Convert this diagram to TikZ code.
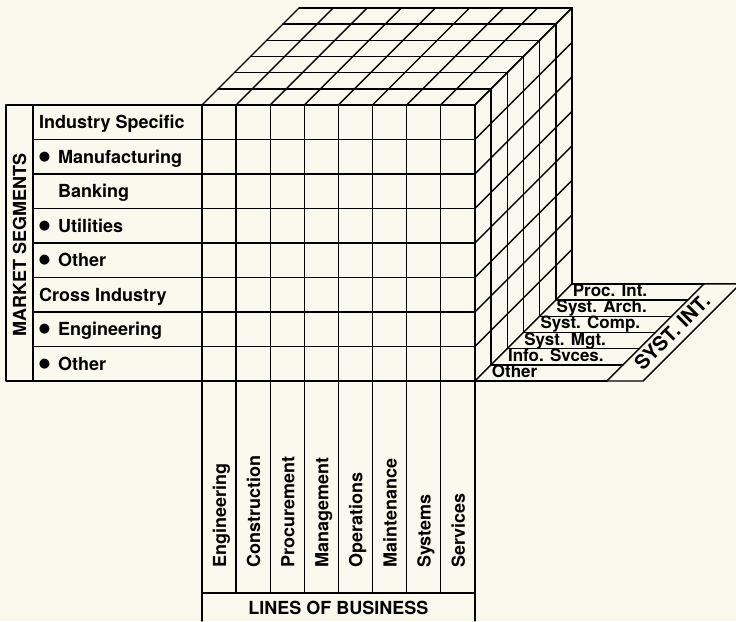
\documentclass[tikz,border=0pt]{standalone}
\usepackage{fontspec}
\setmainfont{TeX Gyre Heros}
\newfontfamily\dejavu{DejaVu Sans}
\definecolor{paper}{RGB}{250,249,237}

\begin{document}
\begin{tikzpicture}[x=1pt,y=-1pt,
        cubeline/.style={line width=1.4pt,line cap=round,line join=round},
        lbl/.style={inner sep=0pt,font=\fontsize{18}{20}\selectfont\bfseries},
        sml/.style={inner sep=0pt,font=\fontsize{17}{19}\selectfont\bfseries},
        bul/.style={inner sep=0pt,font=\dejavu\fontsize{13}{13}\selectfont}]
        \pgfmathsetmacro{\cw}{34.1}
        \pgfmathsetmacro{\rh}{34.5}
        \pgfmathsetmacro{\dd}{16.2}
        \fill[paper] (0,0) rectangle (736,621);
        \useasboundingbox (0,0) rectangle (736,621);
        \clip (0,0) rectangle (736,621);
        % front face, market segments and lines of business
        \draw[cubeline] (6,105) rectangle (33,381);
        \foreach \j in {0,...,8}
            \draw[cubeline] (33,{105+\j*\rh}) -- (474.8,{105+\j*\rh});
        \foreach \i in {1,...,7}
            \draw[cubeline] ({202+\i*\cw},105) -- ({202+\i*\cw},593);
        \draw[cubeline] (202,105) -- (202,621);
        \draw[cubeline] (474.8,105) -- (474.8,621);
        \draw[cubeline] (202,593) -- (474.8,593);
        % top face
        \foreach \i in {0,...,8}
            \draw[cubeline] ({202+\i*\cw},105) -- ++({6*\dd},{-6*\dd});
        \foreach \k in {1,...,6}
            \draw[cubeline] ({202+\k*\dd},{105-\k*\dd}) -- ++(272.8,0);
        % right face
        \foreach \j in {0,...,8}
            \draw[cubeline] (474.8,{105+\j*\rh}) -- ++({6*\dd},{-6*\dd});
        \foreach \k in {1,...,6}
            \draw[cubeline] ({474.8+\k*\dd},{105-\k*\dd}) -- ++(0,276);
        % systems integration floor
        \foreach \k in {0,...,6}
            \draw[cubeline] ({474.8+\k*\dd},{381-\k*\dd}) -- ++(132,0);
        \draw[cubeline] (606.8,381) -- (643,381) -- ++({6*\dd},{-6*\dd}) -- ++(-36.2,0);
        \draw[cubeline] (606.8,381) -- ++({6*\dd},{-6*\dd});

        \node[lbl,rotate=90] (ms) at (19.5,245) {MARKET SEGMENTS};
        \node[lbl] (lob) at (338.4,608) {LINES OF BUSINESS};
        \node[lbl,font=\fontsize{20}{22}\selectfont\bfseries,rotate=45] (si) at (672,332) {SYST. INT.};
        \foreach \t/\x [count=\n from 0] in {Industry Specific/39,Manufacturing/58,Banking/58,
                Utilities/58,Other/58,Cross Industry/39,Engineering/58,Other/58}
            \node[lbl,anchor=base west] (seg\n) at (\x,{105+(\n+0.5)*\rh+6.5}) {\t};
        \foreach \n in {1,3,4,6,7}
            \node[bul] (dot\n) at (44.5,{105+(\n+0.5)*\rh}) {●};
        \foreach \t [count=\n from 0] in {Engineering,Construction,Procurement,Management,
                Operations,Maintenance,Systems,Services}
            \node[lbl,rotate=90,anchor=base west] (col\n) at ({202+(\n+0.5)*\cw+7},568) {\t};
        \foreach \t [count=\n from 0] in {Other,Info. Svces.,Syst. Mgt.,Syst. Comp.,
                Syst. Arch.,Proc. Int.}
            \node[sml,anchor=base west] (lay\n) at ({475.5+(\n+1)*\dd},{377.5-\n*\dd}) {\t};
    \end{tikzpicture}
\end{document}
